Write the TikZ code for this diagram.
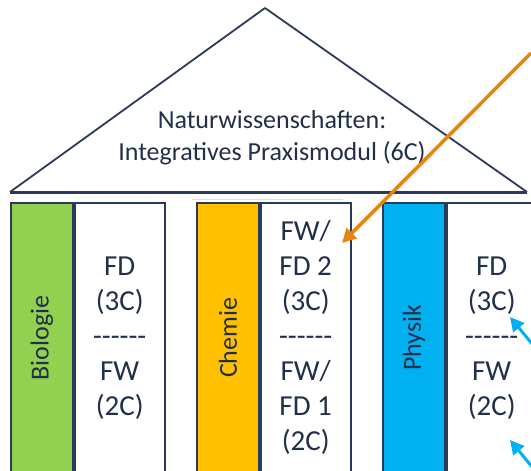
\documentclass[tikz,border=0pt]{standalone}
\usepackage{fontspec}
\setmainfont{Carlito}
\usetikzlibrary{arrows.meta}

\definecolor{navy}{HTML}{222F4A}
\definecolor{frame}{HTML}{2B3A58}
\definecolor{biogreen}{HTML}{92D050}
\definecolor{chemorange}{HTML}{FFC000}
\definecolor{physblue}{HTML}{00B0F0}
\definecolor{arroworange}{HTML}{E8830F}

\newcommand\trennlinie{\mbox{-}\mbox{-}\mbox{-}\mbox{-}\mbox{-}\mbox{-}}

\tikzset{
  bar/.style={draw=frame, line width=1.8pt, anchor=north west,
    minimum width=62pt, minimum height=270pt, inner sep=0pt},
  fach/.style={draw=frame, line width=1.8pt, fill=white, anchor=north west,
    minimum width=90pt, minimum height=270pt, inner sep=0pt,
    align=center, text=navy, font=\fontsize{29}{35}\selectfont},
  barlabel/.style={rotate=90, text=navy, font=\fontsize{26}{30}\selectfont},
  hint/.style={-{Triangle[length=14pt,width=14pt]}, line width=3.5pt}
}

\begin{document}
\begin{tikzpicture}[x=1pt,y=-1pt]
\useasboundingbox (0,0) rectangle (531,471);
\clip (0,0) rectangle (531,471);

% Dach
\draw[frame, line width=1.8pt, line join=round] (10,192) -- (265,8) -- (527,192);
\draw[frame, line width=3pt] (10,192) -- (527,192);
\draw[black!12, line width=1pt] (192,199) -- (343,199);
\node[text=navy, align=center, font=\fontsize{26}{32}\selectfont] (dach) at (272,138)
  {Naturwissenschaften:\\Integratives Praxismodul (6C)};

% Saeulen
\node[bar, fill=biogreen] (bio) at (10,202) {};
\node[barlabel] at (bio.center) {Biologie};
\node[fach] (biofach) at (bio.north east) {FD\\(3C)\\\trennlinie\\FW\\(2C)};

\node[bar, fill=chemorange] (chem) at (196,202) {};
\node[barlabel] at (chem.center) {Chemie};
\node[fach] (chemfach) at (chem.north east) {FW/\\FD 2\\(3C)\\\trennlinie\\FW/\\FD 1\\(2C)};

\node[bar, fill=physblue] (phys) at (382,202) {};
\node[barlabel] at (phys.center) {Physik};
\node[fach] (physfach) at (phys.north east) {FD\\(3C)\\\trennlinie\\FW\\(2C)};

% Pfeile
\coordinate (orangestart) at (531,53);
\coordinate (orangetip) at (342,243);
\draw[hint, arroworange] (orangestart) -- (orangetip);

\coordinate (bluestartA) at (533,345);
\coordinate (bluetipA) at (510,317);
\coordinate (bluestartB) at (533,468);
\coordinate (bluetipB) at (510,440);
\draw[hint, physblue, line width=3pt] (bluestartA) -- (bluetipA);
\draw[hint, physblue, line width=3pt] (bluestartB) -- (bluetipB);

\end{tikzpicture}
\end{document}
